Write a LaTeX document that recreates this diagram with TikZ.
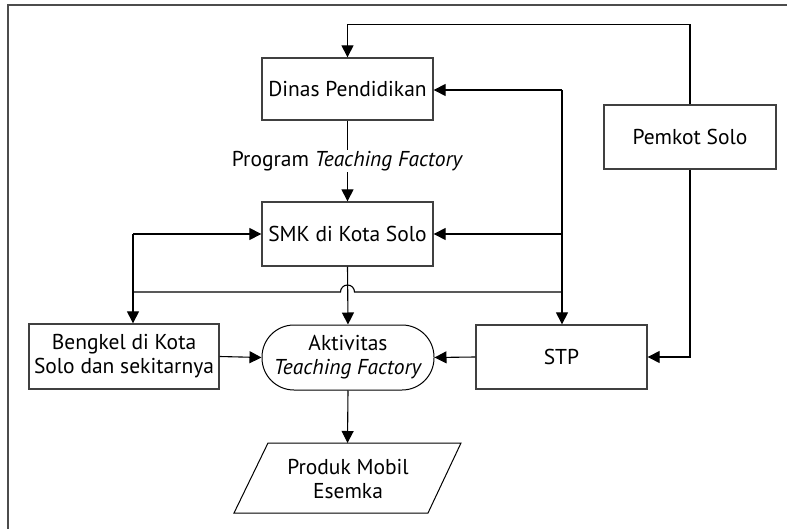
\documentclass[tikz,border=0pt]{standalone}
\usepackage{fontspec}
\setmainfont{PT Sans}
\usetikzlibrary{arrows.meta,calc}
\begin{document}
\begin{tikzpicture}[x=1pt,y=-1pt,
  font=\fontsize{21.5}{24}\selectfont,
  box/.style={draw=black!75,line width=1.3pt,rectangle,align=center,inner sep=2pt},
  conn/.style={draw=black,line width=1.1pt},
  arr/.style={conn,-{Triangle[length=12pt,width=12pt]}}]
\useasboundingbox (0,0) rectangle (787,529);
\draw[draw=black!70,line width=2pt] (8,529) -- (8,5) -- (787,5);
\node[box,minimum width=171,minimum height=62] (dinas) at (347.5,89) {Dinas Pendidikan};
\node[box,minimum width=171,minimum height=64] (smk) at (347.5,234) {SMK di Kota Solo};
\node[box,minimum width=172,minimum height=64] (pemkot) at (690,137) {Pemkot Solo};
\node[box,minimum width=190,minimum height=65] (bengkel) at (124,356.5) {Bengkel di Kota\\Solo dan sekitarnya};
\node[box,draw=black,line width=1pt,rounded corners=32,minimum width=172,minimum height=65] (akt) at (348,357.5) {Aktivitas\\\textit{Teaching Factory}};
\node[box,minimum width=171,minimum height=64] (stp) at (561.5,357) {STP};
\node[align=center] (produk) at (348,479) {Produk Mobil\\Esemka};
\draw[draw=black,line width=1pt] (268,443) -- (461,443) -- (428,513) -- (234,513) -- cycle;
\coordinate (ptop) at (347.5,443);
\coordinate (jl) at (133,234);
\coordinate (jr) at (562,90);
% connectors
\draw[arr] (pemkot.north) -- ++(0,-80) -| (dinas.north);
\draw[arr] (pemkot.south) |- (stp.east);
\draw[arr] (jr) -- (dinas.east |- jr);
\draw[arr] (jr) -- (jr |- stp.north);
\draw[arr] (jr |- smk.east) -- (smk.east);
\draw[arr] (jl) -- (smk.west);
\draw[arr] (jl) -- (jl |- bengkel.north);
\draw[conn] (jl |- 0,292) -- (340.5,292) arc (180:360:7) -- (jr |- 0,292);
\draw[arr] (smk.south) -- (akt.north);
\draw[arr] (dinas.south) -- (smk.north) node[midway,fill=white,inner sep=1pt] (lbl) {Program \textit{Teaching Factory}};
\draw[arr] (bengkel.east) -- (akt.west);
\draw[arr] (stp.west) -- (akt.east);
\draw[arr] (akt.south) -- (ptop);
\end{tikzpicture}
\end{document}
